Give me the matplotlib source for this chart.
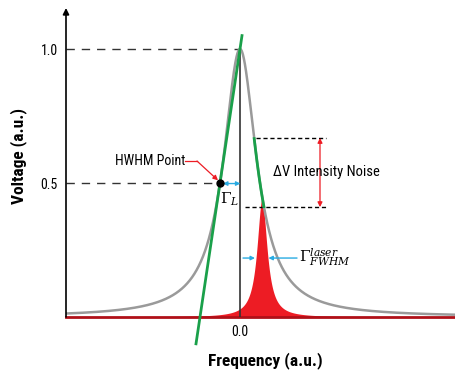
import numpy as np
import matplotlib
matplotlib.use("Agg")
import matplotlib.pyplot as plt

plt.rcParams['font.family'] = ['Roboto Condensed', 'Liberation Sans Narrow', 'Roboto', 'DejaVu Sans']
plt.rcParams['mathtext.fontset'] = 'dejavuserif'

# ── values (x in units of the cavity HWHM) ──
x_range = [-8.7, 10.75]
y_top = 1.153
cavity_center = 0.0
cavity_hwhm = 1.0
cavity_peak = 1.0
laser_center = 1.1
laser_hwhm = 0.3
laser_peak = 0.44
hwhm_point = (-1.0, 0.5)
tangent_x = [-2.2, 0.1]
noise_levels = [0.668, 0.41]
y_ticks = [0.5, 1.0]
y_tick_labels = ["0.5", "1.0"]
x_ticks = [0.0]
x_tick_labels = ["0.0"]

GRAY = "#9a9a9a"
GREEN = "#1aa04a"
RED = "#ed1c24"
BLUE = "#29abe2"


def lorentz(x, x0, g, a):
    return a / (1 + ((x - x0) / g) ** 2)


fig = plt.figure(figsize=(4.55, 3.74), dpi=100)
ax = fig.add_axes([66 / 455, 57 / 374, 389 / 455, 309 / 374])
ax.set_xlim(*x_range)
ax.set_ylim(0, y_top)
for s in ax.spines.values():
    s.set_visible(False)

xs = np.linspace(x_range[0], x_range[1], 2000)
cav = lorentz(xs, cavity_center, cavity_hwhm, cavity_peak)
las = lorentz(xs, laser_center, laser_hwhm, laser_peak)

# laser line (red fill) and baseline
ax.fill_between(xs, 0, las, color=RED, lw=0, zorder=2)
ax.plot(x_range, [0, 0], color="#b01018", lw=2, zorder=3, clip_on=False)

# cavity transmission
ax.plot(xs, cav, color=GRAY, lw=1.8, zorder=3)

# green segment along the curve between noise levels
hi, lo = noise_levels
seg = (xs > 0) & (cav <= hi) & (cav >= lo)
ax.plot(xs[seg], cav[seg], color=GREEN, lw=2, zorder=4)

# tangent at HWHM point
tx = np.array(tangent_x)
slope = 0.5
ty = hwhm_point[1] + slope * (tx - hwhm_point[0])
ax.plot(tx, ty, color=GREEN, lw=2, zorder=4, clip_on=False)

# center line
ax.plot([cavity_center, cavity_center], [0, 1.0], color="#333333", lw=1.2, zorder=3)

# dashed guides
ax.plot([x_range[0], cavity_center], [1.0, 1.0], color="#333333", lw=1,
        dashes=(6, 5), zorder=2)
ax.plot([x_range[0], hwhm_point[0]], [0.5, 0.5], color="#333333", lw=1,
        dashes=(6, 5), zorder=2)
ax.plot([0.8, 4.3], [hi, hi], color="black", lw=1, dashes=(3, 2), zorder=2)
ax.plot([0.25, 4.3], [lo, lo], color="black", lw=1, dashes=(3, 2), zorder=2)

# noise arrow
ax.annotate("", xy=(4.0, hi), xytext=(4.0, lo),
            arrowprops=dict(arrowstyle="<|-|>", color=RED, lw=0.9,
                            mutation_scale=7, shrinkA=0, shrinkB=0))
ax.text(1.65, 0.541, "ΔV Intensity Noise", fontsize=10.5, va="center", ha="left")

# HWHM point
ax.plot(*hwhm_point, "o", color="black", ms=5, zorder=5)
ax.text(-2.75, 0.582, "HWHM Point", fontsize=10, ha="right", va="center")
ax.plot([-2.75, -2.15], [0.582, 0.582], color=RED, lw=0.9)
ax.annotate("", xy=(-1.1, 0.51), xytext=(-2.15, 0.582),
            arrowprops=dict(arrowstyle="-|>", color=RED, lw=0.9,
                            mutation_scale=7, shrinkA=0, shrinkB=0))

# Gamma_L
ax.annotate("", xy=(-0.85, 0.498), xytext=(0.02, 0.498),
            arrowprops=dict(arrowstyle="<|-|>", color=BLUE, lw=1,
                            mutation_scale=6, shrinkA=0, shrinkB=0))
ax.text(-0.5, 0.44, r"$\Gamma_L$", fontsize=11, ha="center", va="center")

# Gamma_FWHM laser
ax.annotate("", xy=(0.75, 0.22), xytext=(0.15, 0.22),
            arrowprops=dict(arrowstyle="-|>", color=BLUE, lw=1,
                            mutation_scale=6, shrinkA=0, shrinkB=0))
ax.annotate("", xy=(1.42, 0.22), xytext=(2.85, 0.22),
            arrowprops=dict(arrowstyle="-|>", color=BLUE, lw=1,
                            mutation_scale=6, shrinkA=0, shrinkB=0))
ax.text(2.95, 0.225, r"$\Gamma_{FWHM}^{laser}$", fontsize=11, ha="left", va="center")

# y axis with arrow
ax.annotate("", xy=(x_range[0], y_top), xytext=(x_range[0], 0),
            arrowprops=dict(arrowstyle="-|>", color="black", lw=1.2,
                            mutation_scale=9, shrinkA=0, shrinkB=0),
            annotation_clip=False)

ax.set_yticks(y_ticks)
ax.set_yticklabels(y_tick_labels, fontsize=10)
ax.set_xticks(x_ticks)
ax.set_xticklabels(x_tick_labels, fontsize=10)
ax.tick_params(axis="x", length=0, pad=6)
ax.tick_params(axis="y", length=0, pad=6)

ax.set_xlabel("Frequency (a.u.)", fontsize=12.5, x=(265 - 66) / 389, labelpad=9,
              fontweight="bold")
ax.set_ylabel("Voltage (a.u.)", fontsize=12.5, labelpad=10, y=(317 - 156) / 309,
              fontweight="bold")

fig.savefig("out.png", dpi=100)
